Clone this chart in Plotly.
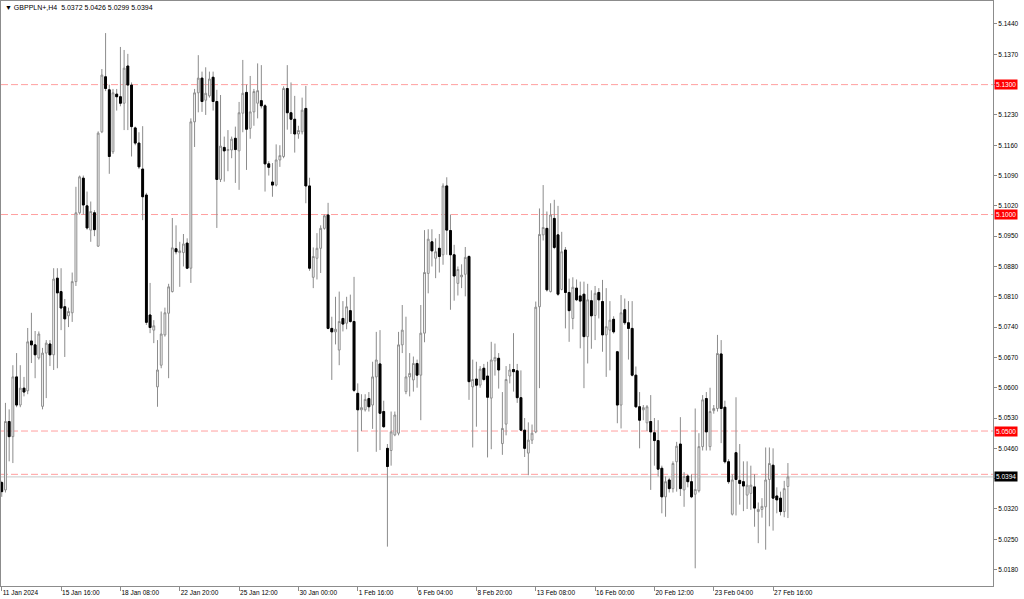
import plotly.graph_objects as go

# ---- data ----
opens = [5.0381,5.0364,5.0522,5.0487,5.0625,5.0560,5.0599,5.0593,5.0708,5.0699,
         5.0669,5.0557,5.0680,5.0701,5.0676,5.0853,5.0822,5.0787,5.0766,5.0773,
         5.0845,5.1004,5.1084,5.1020,5.0964,5.1004,5.0927,5.1191,5.1318,5.1288,
         5.1145,5.1278,5.1272,5.1257,5.1343,5.1299,5.1200,5.1165,5.1105,5.1045,
         5.0768,5.0733,5.0602,5.0652,5.0722,5.0772,5.0822,5.0921,5.0912,5.0912,
         5.0934,5.0876,5.1214,5.1281,5.1315,5.1264,5.1274,5.1317,5.1261,5.1081,
         5.1155,5.1148,5.1149,5.1176,5.1147,5.1234,5.1282,5.1199,5.1237,5.1257,
         5.1263,5.1251,5.1117,5.1075,5.1068,5.1126,5.1134,5.1291,5.1235,5.1220,
         5.1186,5.1191,5.1245,5.1066,5.0855,5.0899,5.0922,5.0968,5.0999,5.0737,
         5.0729,5.0687,5.0760,5.0749,5.0778,5.0753,5.0587,5.0549,5.0549,5.0575,
         5.0560,5.0625,5.0655,5.0545,5.0460,5.0455,5.0491,5.0495,5.0699,5.0591,
         5.0625,5.0618,5.0656,5.0629,5.0726,5.0864,5.0937,5.0899,5.0922,5.0907,
         5.1066,5.0963,5.0907,5.0841,5.0856,5.0862,5.0903,5.0602,5.0620,5.0606,
         5.0645,5.0627,5.0576,5.0662,5.0668,5.0471,5.0516,5.0627,5.0642,5.0639,
         5.0577,5.0502,5.0449,5.0479,5.0498,5.0787,5.0953,5.0968,5.0822,5.0991,
         5.0953,5.0827,5.0918,5.0820,5.0760,5.0830,5.0812,5.0816,5.0718,5.0801,
         5.0767,5.0820,5.0799,5.0722,5.0733,5.0758,5.0683,5.0560,5.0780,5.0750,
         5.0737,5.0629,5.0556,5.0549,5.0519,5.0522,5.0496,5.0478,5.0414,5.0348,
         5.0387,5.0367,5.0429,5.0470,5.0364,5.0396,5.0383,5.0354,5.0362,5.0464,
         5.0575,5.0464,5.0547,5.0552,5.0678,5.0555,5.0429,5.0308,5.0450,5.0386,
         5.0383,5.0352,5.0356,5.0371,5.0314,5.0319,5.0325,5.0388,5.0421,5.0350,
         5.0345,5.0314,5.0372]
highs = [5.0385,5.0565,5.0550,5.0652,5.0680,5.0652,5.0625,5.0738,5.0773,5.0731,
         5.0730,5.0692,5.0710,5.0710,5.0876,5.0876,5.0876,5.0805,5.0785,5.0866,
         5.1064,5.1090,5.1090,5.1053,5.1030,5.1010,5.1192,5.1336,5.1419,5.1300,
         5.1290,5.1290,5.1387,5.1380,5.1371,5.1305,5.1203,5.1190,5.1204,5.1050,
         5.0842,5.0756,5.0710,5.0776,5.0785,5.0840,5.0992,5.0975,5.0937,5.0955,
         5.0945,5.1222,5.1290,5.1368,5.1330,5.1340,5.1330,5.1330,5.1288,5.1276,
         5.1180,5.1195,5.1180,5.1203,5.1260,5.1357,5.1300,5.1320,5.1290,5.1349,
         5.1345,5.1255,5.1123,5.1119,5.1162,5.1160,5.1296,5.1345,5.1305,5.1274,
         5.1205,5.1270,5.1297,5.1085,5.0924,5.0957,5.0975,5.1000,5.1027,5.0764,
         5.0810,5.0822,5.0800,5.0810,5.0815,5.0856,5.0610,5.0585,5.0585,5.0590,
         5.0660,5.0729,5.0733,5.0570,5.0470,5.0545,5.0545,5.0729,5.0791,5.0764,
         5.0680,5.0672,5.0665,5.0791,5.0964,5.0966,5.0966,5.0945,5.0955,5.1072,
         5.1086,5.1000,5.0930,5.0880,5.0885,5.0925,5.0906,5.0665,5.0660,5.0650,
         5.0655,5.0660,5.0706,5.0702,5.0680,5.0590,5.0650,5.0655,5.0726,5.0655,
         5.0640,5.0530,5.0520,5.0515,5.0799,5.1014,5.1068,5.1007,5.1026,5.1034,
         5.1020,5.0960,5.0925,5.0852,5.0855,5.0850,5.0845,5.0845,5.0840,5.0825,
         5.0835,5.0830,5.0849,5.0830,5.0800,5.0765,5.0685,5.0814,5.0806,5.0800,
         5.0800,5.0649,5.0590,5.0560,5.0560,5.0583,5.0530,5.0525,5.0420,5.0395,
         5.0392,5.0430,5.0475,5.0532,5.0405,5.0400,5.0400,5.0552,5.0495,5.0583,
         5.0590,5.0600,5.0560,5.0722,5.0710,5.0570,5.0435,5.0400,5.0578,5.0470,
         5.0430,5.0430,5.0420,5.0400,5.0335,5.0345,5.0462,5.0462,5.0460,5.0370,
         5.0360,5.0385,5.0426]
lows = [5.0348,5.0358,5.0430,5.0426,5.0555,5.0555,5.0580,5.0585,5.0657,5.0622,
        5.0665,5.0550,5.0576,5.0650,5.0641,5.0645,5.0733,5.0671,5.0740,5.0752,
        5.0835,5.1000,5.1000,5.0965,5.0937,5.0950,5.0925,5.1188,5.1285,5.1094,
        5.1140,5.1240,5.1250,5.1195,5.1195,5.1134,5.1160,5.1105,5.0987,5.0745,
        5.0726,5.0703,5.0556,5.0645,5.0718,5.0622,5.0820,5.0908,5.0833,5.0880,
        5.0874,5.0842,5.1156,5.1236,5.1237,5.1230,5.1270,5.1240,5.0969,5.1075,
        5.1076,5.1100,5.1130,5.1073,5.1057,5.1190,5.1103,5.1175,5.1205,5.1222,
        5.1245,5.1053,5.1090,5.1041,5.1065,5.1110,5.1130,5.1196,5.1186,5.1143,
        5.1175,5.1185,5.1026,5.0870,5.0830,5.0850,5.0865,5.0965,5.0735,5.0618,
        5.0700,5.0652,5.0730,5.0735,5.0750,5.0590,5.0452,5.0500,5.0545,5.0545,
        5.0505,5.0452,5.0456,5.0507,5.0233,5.0420,5.0488,5.0490,5.0680,5.0585,
        5.0580,5.0591,5.0600,5.0525,5.0705,5.0818,5.0880,5.0853,5.0866,5.0884,
        5.0907,5.0780,5.0801,5.0813,5.0830,5.0811,5.0572,5.0462,5.0510,5.0600,
        5.0615,5.0439,5.0458,5.0628,5.0598,5.0445,5.0490,5.0610,5.0591,5.0565,
        5.0500,5.0440,5.0398,5.0470,5.0495,5.0599,5.0940,5.0822,5.0820,5.0920,
        5.0812,5.0825,5.0737,5.0706,5.0735,5.0800,5.0691,5.0599,5.0656,5.0690,
        5.0710,5.0760,5.0683,5.0625,5.0640,5.0725,5.0518,5.0506,5.0745,5.0665,
        5.0626,5.0553,5.0460,5.0525,5.0500,5.0364,5.0420,5.0395,5.0310,5.0302,
        5.0358,5.0358,5.0360,5.0350,5.0325,5.0370,5.0345,5.0183,5.0358,5.0455,
        5.0455,5.0455,5.0540,5.0545,5.0472,5.0425,5.0378,5.0305,5.0305,5.0330,
        5.0315,5.0320,5.0318,5.0279,5.0241,5.0300,5.0226,5.0280,5.0270,5.0310,
        5.0305,5.0301,5.0299]
closes = [5.0360,5.0522,5.0487,5.0625,5.0560,5.0599,5.0590,5.0706,5.0699,5.0676,
          5.0724,5.0680,5.0703,5.0676,5.0851,5.0819,5.0784,5.0759,5.0776,5.0845,
          5.1004,5.1087,5.1022,5.0969,5.1007,5.0965,5.1188,5.1322,5.1291,5.1134,
          5.1281,5.1272,5.1257,5.1338,5.1299,5.1203,5.1165,5.1110,5.1041,5.0751,
          5.0739,5.0743,5.0641,5.0724,5.0773,5.0833,5.0923,5.0914,5.0916,5.0932,
          5.0876,5.1214,5.1281,5.1315,5.1261,5.1280,5.1313,5.1261,5.1081,5.1158,
          5.1147,5.1150,5.1174,5.1150,5.1235,5.1280,5.1197,5.1237,5.1284,5.1286,
          5.1251,5.1117,5.1109,5.1068,5.1126,5.1136,5.1291,5.1235,5.1220,5.1186,
          5.1194,5.1241,5.1066,5.0876,5.0903,5.0922,5.0968,5.0997,5.0737,5.0729,
          5.0735,5.0753,5.0747,5.0787,5.0753,5.0594,5.0549,5.0554,5.0573,5.0556,
          5.0625,5.0664,5.0541,5.0510,5.0418,5.0498,5.0537,5.0699,5.0733,5.0625,
          5.0633,5.0656,5.0629,5.0726,5.0866,5.0943,5.0916,5.0914,5.0903,5.1066,
          5.0964,5.0907,5.0858,5.0873,5.0860,5.0901,5.0614,5.0619,5.0606,5.0643,
          5.0619,5.0578,5.0664,5.0670,5.0641,5.0506,5.0619,5.0641,5.0637,5.0577,
          5.0502,5.0460,5.0479,5.0495,5.0786,5.0954,5.0970,5.0826,5.0999,5.0924,
          5.0816,5.0914,5.0820,5.0778,5.0832,5.0803,5.0800,5.0718,5.0803,5.0766,
          5.0818,5.0803,5.0722,5.0741,5.0756,5.0729,5.0560,5.0773,5.0750,5.0737,
          5.0629,5.0556,5.0525,5.0554,5.0556,5.0498,5.0478,5.0412,5.0348,5.0383,
          5.0367,5.0425,5.0465,5.0367,5.0395,5.0383,5.0348,5.0365,5.0464,5.0572,
          5.0498,5.0545,5.0552,5.0679,5.0552,5.0429,5.0383,5.0387,5.0388,5.0379,
          5.0373,5.0375,5.0375,5.0322,5.0319,5.0326,5.0387,5.0425,5.0345,5.0341,
          5.0314,5.0367,5.0394]

tick_bars = [0, 16, 32, 48, 64, 80, 96, 112, 128, 144, 160, 176, 192, 208]
tick_labels = ["11 Jan 2024", "15 Jan 16:00", "18 Jan 08:00", "22 Jan 20:00",
               "25 Jan 12:00", "30 Jan 00:00", "1 Feb 16:00", "6 Feb 04:00",
               "8 Feb 20:00", "13 Feb 08:00", "16 Feb 00:00", "20 Feb 12:00",
               "23 Feb 04:00", "27 Feb 16:00"]
price_ticks = [5.1440, 5.1370, 5.1300, 5.1230, 5.1160, 5.1090, 5.1020, 5.0950,
               5.0880, 5.0810, 5.0740, 5.0670, 5.0600, 5.0530, 5.0460, 5.0390,
               5.0320, 5.0250, 5.0180]
level_lines = [5.1300, 5.1000, 5.0500, 5.0400]
level_labels = [5.1300, 5.1000, 5.0500]
last_price = 5.0394
title_text = "\u25bc GBPPLN+,H4\u00a0\u00a05.0372 5.0426 5.0299 5.0394"

n = len(closes)
bars = list(range(n))

FONT = "Liberation Sans"
FS = 6.5
GREY = "#8c8c8c"

fig = go.Figure()
# full candles (grey wicks, white bull bodies)
fig.add_trace(go.Candlestick(
    x=bars, open=opens, high=highs, low=lows, close=closes,
    increasing=dict(line=dict(color=GREY, width=1), fillcolor="white"),
    decreasing=dict(line=dict(color=GREY, width=1), fillcolor="black"),
    whiskerwidth=0, hoverinfo="skip", showlegend=False,
))
# solid black bodies for bear candles
bear_x = [i for i in bars if closes[i] < opens[i]]
bear_top = [opens[i] for i in bear_x]
bear_bot = [closes[i] for i in bear_x]
fig.add_trace(go.Candlestick(
    x=bear_x, open=bear_top, high=bear_top, low=bear_bot, close=bear_bot,
    increasing=dict(line=dict(color="black", width=1), fillcolor="black"),
    decreasing=dict(line=dict(color="black", width=1), fillcolor="black"),
    whiskerwidth=0, hoverinfo="skip", showlegend=False,
))

shapes = []
for lv in level_lines:
    shapes.append(dict(type="line", xref="paper", x0=0, x1=1, yref="y", y0=lv, y1=lv,
                       line=dict(color="rgba(255,80,80,0.55)", width=1, dash="7px,3px"),
                       layer="below"))
shapes.append(dict(type="line", xref="paper", x0=0, x1=1, yref="y", y0=last_price, y1=last_price,
                   line=dict(color="#c8c8c8", width=1), layer="below"))

annotations = [dict(xref="paper", yref="paper", x=0.002, y=0.999, xanchor="left", yanchor="top",
                    text=title_text, showarrow=False,
                    font=dict(family=FONT, size=FS + 0.5, color="#000000"))]
for lv in level_labels:
    annotations.append(dict(xref="paper", yref="y", x=1, y=lv, xanchor="left", yanchor="middle",
                            xshift=1, text=f"{lv:.4f}", showarrow=False, bgcolor="#ff0000",
                            borderpad=1, font=dict(family=FONT, size=FS, color="white")))
annotations.append(dict(xref="paper", yref="y", x=1, y=last_price, xanchor="left", yanchor="middle",
                        xshift=1, text=f"{last_price:.4f}", showarrow=False, bgcolor="#000000",
                        borderpad=1, font=dict(family=FONT, size=FS, color="white")))

# tick labels hidden behind the price boxes are left blank
covered = {f"{p:.4f}" for p in level_labels} | {"5.0390"}
price_text = ["" if f"{p:.4f}" in covered else f"{p:.4f}" for p in price_ticks]

fig.update_layout(
    width=1024, height=599,
    margin=dict(l=1, r=31, t=1, b=13),
    paper_bgcolor="white", plot_bgcolor="white",
    shapes=shapes, annotations=annotations,
    showlegend=False,
    xaxis=dict(range=[-0.2, 267.3], showgrid=False, zeroline=False,
               showline=True, linecolor=GREY, linewidth=1, mirror=True,
               ticks="outside", ticklen=4, tickcolor=GREY,
               tickvals=tick_bars, ticktext=tick_labels,
               ticklabelposition="outside right",
               tickfont=dict(family=FONT, size=FS, color="#000000"),
               rangeslider=dict(visible=False)),
    yaxis=dict(range=[5.01421, 5.14931], side="right", showgrid=False, zeroline=False,
               showline=True, linecolor=GREY, linewidth=1, mirror=True,
               ticks="outside", ticklen=3, tickcolor=GREY,
               tickvals=price_ticks, ticktext=price_text,
               tickfont=dict(family=FONT, size=FS, color="#000000")),
)

fig.write_html("out.html", config={"displayModeBar": False},
               post_script="document.body.style.margin='0px';document.body.style.overflow='hidden';")
